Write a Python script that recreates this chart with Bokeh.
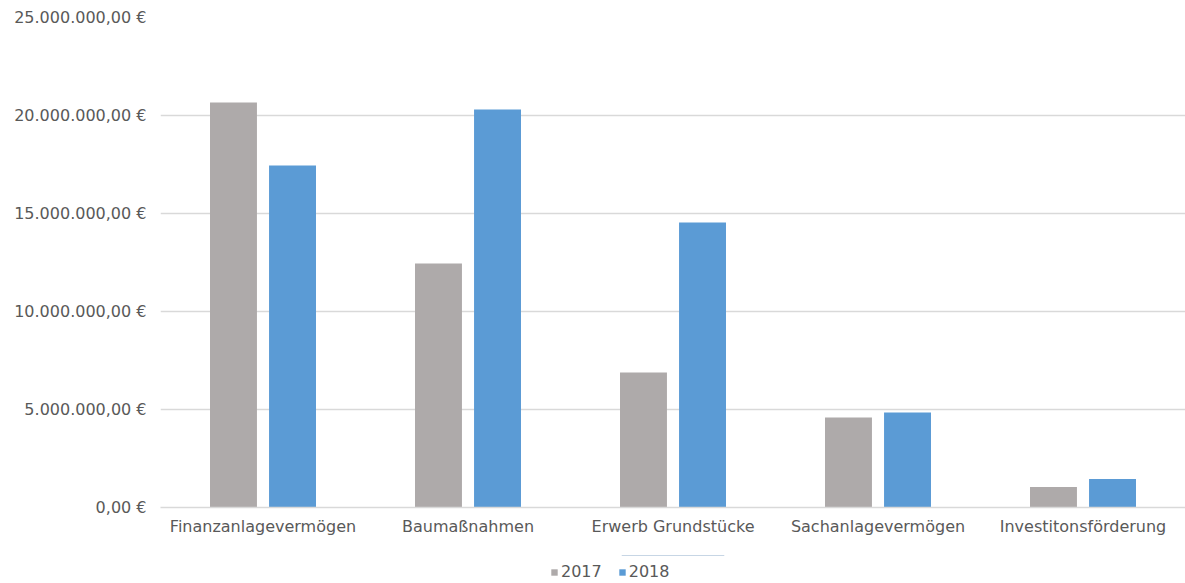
from bokeh.plotting import figure
from bokeh.layouts import column
from bokeh.models import ColumnDataSource, FixedTicker, Range1d, Legend, LegendItem
from bokeh.embed import file_html
from bokeh.resources import INLINE

categories = ["Finanzanlagevermögen", "Baumaßnahmen", "Erwerb Grundstücke",
              "Sachanlagevermögen", "Investitonsförderung"]
values_2017 = [20660000, 12450000, 6890000, 4590000, 1040000]
values_2018 = [17450000, 20300000, 14540000, 4850000, 1460000]
series_names = ["2017", "2018"]
y_ticks = [0, 5000000, 10000000, 15000000, 20000000, 25000000]
y_tick_labels = ["0,00 €", "5.000.000,00 €", "10.000.000,00 €", "15.000.000,00 €",
                 "20.000.000,00 €", "25.000.000,00 €"]

FONT = "DejaVu Sans"
TXT = "#595959"
GRID = "#D9D9D9"
C17 = "#AEAAAA"
C18 = "#5B9BD5"

idx = list(range(len(categories)))
src = ColumnDataSource(dict(
    x17=[i + 0.5 - 0.144 for i in idx],
    x18=[i + 0.5 + 0.144 for i in idx],
    v17=values_2017,
    v18=values_2018,
))

p = figure(width=1185, height=555, output_backend="svg", toolbar_location=None,
           x_range=Range1d(0, 5), y_range=Range1d(0, 25000000),
           min_border_left=160, min_border_right=0, min_border_top=17,
           min_border_bottom=48)
p.outline_line_color = None

p.vbar(x="x17", top="v17", width=0.229, source=src, color=C17, line_color=None)
p.vbar(x="x18", top="v18", width=0.229, source=src, color=C18, line_color=None)

p.xgrid.grid_line_color = None
p.ygrid.grid_line_color = GRID
p.ygrid.grid_line_width = 1.5
p.ygrid.ticker = FixedTicker(ticks=y_ticks)

p.yaxis.ticker = FixedTicker(ticks=y_ticks)
p.yaxis.major_label_overrides = {t: l for t, l in zip(y_ticks, y_tick_labels)}
p.yaxis.axis_line_color = None
p.yaxis.major_tick_line_color = None
p.yaxis.minor_tick_line_color = None
p.yaxis.major_label_standoff = 8
p.yaxis.major_label_text_font = FONT
p.yaxis.major_label_text_font_size = "16px"
p.yaxis.major_label_text_color = TXT

xt = [i + 0.5 for i in idx]
p.xaxis.ticker = FixedTicker(ticks=xt)
p.xaxis.major_label_overrides = {t: c for t, c in zip(xt, categories)}
p.xaxis.axis_line_color = GRID
p.xaxis.axis_line_width = 1.5
p.xaxis.major_tick_line_color = None
p.xaxis.minor_tick_line_color = None
p.xaxis.major_label_standoff = 3
p.xaxis.major_label_text_font = FONT
p.xaxis.major_label_text_font_size = "16px"
p.xaxis.major_label_text_color = TXT

# legend strip below the chart (its frame is aligned with the chart frame)
pl = figure(width=1185, height=28, output_backend="svg", toolbar_location=None,
            x_range=Range1d(0, 1), y_range=Range1d(0, 1),
            x_axis_location=None, y_axis_location=None,
            min_border_left=160, min_border_right=0, min_border_top=0,
            min_border_bottom=0)
pl.outline_line_color = None
pl.grid.visible = False
# one row lying far outside the strip's range, so the swatches have a colour
swatch = ColumnDataSource(dict(x=[0.5], bottom=[50], top=[60]))
l17 = pl.vbar(x="x", bottom="bottom", top="top", width=0.1, source=swatch,
              color=C17, line_color=None)
l18 = pl.vbar(x="x", bottom="bottom", top="top", width=0.1, source=swatch,
              color=C18, line_color=None)

legend = Legend(items=[LegendItem(label=series_names[0], renderers=[l17]),
                       LegendItem(label=series_names[1], renderers=[l18])],
                orientation="horizontal", location=(390, 2),
                label_text_font=FONT, label_text_font_size="16px",
                label_text_color=TXT, glyph_width=8, glyph_height=8,
                label_standoff=3, spacing=16, padding=0, margin=0,
                border_line_color=None, background_fill_alpha=0,
                label_height=16)
pl.add_layout(legend, "center")

layout = column(p, pl, spacing=0)
open("out.html", "w").write(file_html(layout, INLINE))
